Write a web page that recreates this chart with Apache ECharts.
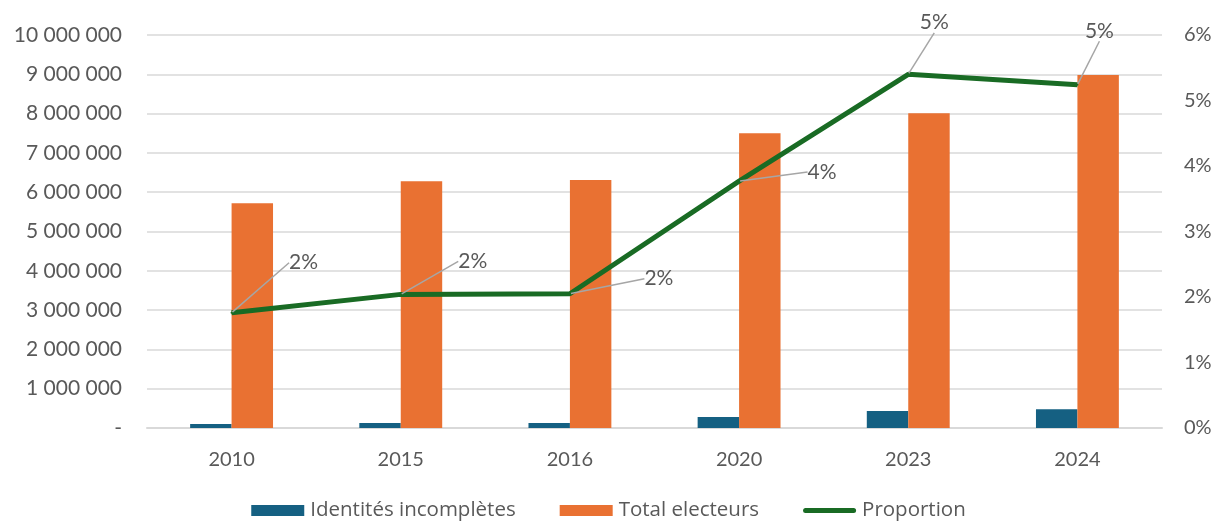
<!DOCTYPE html>
<html><head><meta charset="utf-8">
<script src="https://cdn.jsdelivr.net/npm/echarts@6/dist/echarts.min.js"></script>
<style>html,body{margin:0;padding:0;background:#fff}#c{width:1217px;height:525px}</style>
</head><body><div id="c"></div>
<script>
const categories = ['2010','2015','2016','2020','2023','2024'];
const identitesIncompletes = [100000, 128000, 130000, 283000, 432000, 475000];
const totalElecteurs = [5720000, 6280000, 6310000, 7500000, 8010000, 8980000];
const proportion = [1.76, 2.04, 2.05, 3.77, 5.40, 5.24];
const labelOffsets = [[72,-50],[72,-33],[89,-15],[83,-9],[26,-52],[22,-54]];

const font = 'Lato, "Open Sans", sans-serif';
const legendFont = '"Open Sans", sans-serif';
const txt = '#595959';
function fmtNum(v){ if(v===0) return '-'; return String(v).replace(/\B(?=(\d{3})+(?!\d))/g,' '); }

const chart = echarts.init(document.getElementById('c'));
chart.setOption({
  animation:false,
  textStyle:{fontFamily:font},
  grid:{left:147,right:55,top:35,bottom:97},
  legend:{
    bottom:-1, left:'center', itemWidth:53, itemHeight:11, itemGap:44,
    textStyle:{fontSize:20.5,color:txt,fontFamily:legendFont,padding:[0,0,0,1]},
    data:[
      {name:'Identités incomplètes',icon:'rect'},
      {name:'Total electeurs',icon:'rect'},
      {name:'Proportion',icon:'path://M2.5,3 L50.5,3 A2.5,2.5 0 0 1 50.5,8 L2.5,8 A2.5,2.5 0 0 1 2.5,3 Z M0,0 L0,0 M53,11 L53,11'}
    ]
  },
  xAxis:{type:'category',data:categories,
    axisLine:{lineStyle:{color:'#D9D9D9',width:2}},axisTick:{show:false},
    axisLabel:{fontSize:20,color:txt,margin:22,fontFamily:font}},
  yAxis:[
    {type:'value',min:0,max:10000000,interval:1000000,
     axisLine:{show:false},axisTick:{show:false},
     splitLine:{lineStyle:{color:'#D9D9D9',width:1.5}},
     axisLabel:{fontSize:21,color:txt,margin:25,formatter:fmtNum,fontFamily:font}},
    {type:'value',min:0,max:6,interval:1,
     axisLine:{show:false},axisTick:{show:false},splitLine:{show:false},
     axisLabel:{fontSize:20,color:txt,margin:22,formatter:'{value}%',fontFamily:font}}
  ],
  series:[
    {name:'Identités incomplètes',type:'bar',data:identitesIncompletes,barGap:'0%',barCategoryGap:'51%',
     itemStyle:{color:'#156082'}},
    {name:'Total electeurs',type:'bar',data:totalElecteurs,
     itemStyle:{color:'#E97132'}},
    {name:'Proportion',type:'line',yAxisIndex:1,data:proportion,
     symbol:'circle',symbolSize:2,showSymbol:true,
     lineStyle:{color:'#196B24',width:5},itemStyle:{color:'#196B24'},
     label:{show:true,position:'inside',fontSize:21,color:txt,fontFamily:font,
       formatter:p=>Math.round(p.value)+'%'},
     labelLine:{show:true,lineStyle:{color:'#A6A6A6',width:1.5}},
     labelLayout:function(p){const o=labelOffsets[p.dataIndex];return {dx:o[0],dy:o[1]};},
     z:5}
  ]
});
</script></body></html>
